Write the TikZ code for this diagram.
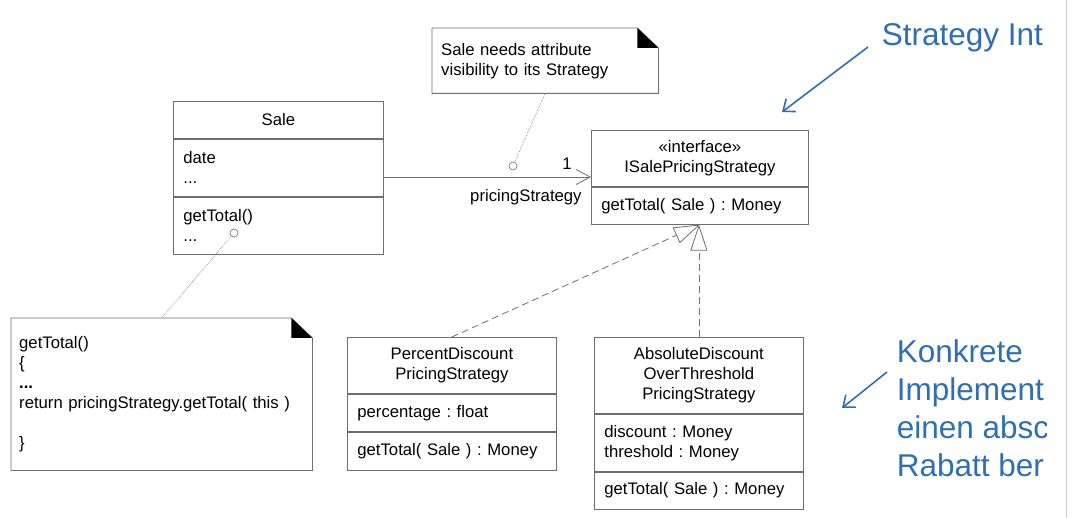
\documentclass[tikz,border=0pt]{standalone}
\usepackage{fontspec}
\setmainfont{Liberation Sans}
\usetikzlibrary{arrows.meta}

\definecolor{umlgray}{RGB}{110,110,110}
\definecolor{slideblue}{RGB}{46,110,182}
\definecolor{rulegray}{RGB}{205,205,205}

\newcommand{\umlfont}{\fontsize{16.7pt}{20pt}\selectfont}
\frenchspacing

\tikzset{
    classhead/.style={draw=umlgray, line width=0.8pt, inner sep=0pt,
        align=center, anchor=north west},
    classpart/.style={draw=umlgray, line width=0.8pt, inner xsep=10pt,
        inner ysep=0pt, align=left, anchor=north west},
    notebox/.style={inner xsep=9pt, inner ysep=0pt, align=left,
        anchor=north west},
    notedot/.style={circle, draw=umlgray, fill=white, line width=0.6pt,
        inner sep=0pt, minimum size=8pt},
    noteline/.style={draw=umlgray, densely dotted, line width=0.6pt},
    realize/.style={draw=umlgray, line width=0.8pt,
        dash pattern=on 7pt off 4pt,
        -{Triangle[fill=white, length=26pt, width=17pt]}},
    hinttext/.style={text=slideblue, inner sep=0pt,
        font=\fontsize{31.5pt}{38.3pt}\selectfont},
    hint/.style={draw=slideblue, line width=1.6pt,
        -{Straight Barb[length=10pt, width=16pt]}},
}

\begin{document}
\begin{tikzpicture}[x=1pt, y=-1pt, font=\umlfont]
    \useasboundingbox (0,0) rectangle (1079,518);
    \begin{scope} % Sale and the strategy interface
        \node[classhead, minimum width=210pt, minimum height=37pt]
            (saleName) at (173,101) {Sale};
        \node[classpart, text width=190pt, minimum height=57pt]
            (saleAttr) at (saleName.south west) {date\\...};
        \node[classpart, text width=190pt, minimum height=57pt]
            (saleOps) at (saleAttr.south west) {getTotal()\\...};
        \node[classhead, minimum width=217pt, minimum height=56pt]
            (isaleHead) at (591,130) {«interface»\\ISalePricingStrategy};
        \node[classpart, text width=197pt, minimum height=37pt]
            (isaleOps) at (isaleHead.south west) {getTotal( Sale ) : Money};
    \end{scope}
    \begin{scope} % Concrete strategies
        \node[classhead, minimum width=209pt, minimum height=56pt]
            (percentHead) at (347,337) {PercentDiscount\\PricingStrategy};
        \node[classpart, text width=189pt, minimum height=37pt]
            (percentAttr) at (percentHead.south west) {percentage : float};
        \node[classpart, text width=189pt, minimum height=38pt]
            (percentOps) at (percentAttr.south west) {getTotal( Sale ) : Money};
        \node[classhead, minimum width=209pt, minimum height=76pt]
            (absHead) at (594,337) {AbsoluteDiscount\\OverThreshold\\PricingStrategy};
        \node[classpart, text width=189pt, minimum height=57pt]
            (absAttr) at (absHead.south west) {discount : Money\\threshold : Money};
        \node[classpart, text width=189pt, minimum height=37pt]
            (absOps) at (absAttr.south west) {getTotal( Sale ) : Money};
    \end{scope}
    \begin{scope} % Notes
        \node[notebox, text width=208pt, minimum height=65pt]
            (strategyNote) at (432,28) {Sale needs attribute\\visibility to its Strategy};
        \node[notebox, inner xsep=8pt, text width=285pt, minimum height=152pt]
            (totalNote) at (11,318) {getTotal()\\\{\\\textbf{...}\\
            return pricingStrategy.getTotal( this )\\[20pt]\}};
        \foreach \n in {strategyNote, totalNote} {
            \draw[umlgray, line width=0.8pt] (\n.north west) --
                ([xshift=-21pt]\n.north east) -- ([yshift=-20pt]\n.north east) --
                (\n.south east) -- (\n.south west) -- cycle;
            \fill ([xshift=-21pt]\n.north east) --
                ([xshift=-21pt, yshift=-20pt]\n.north east) --
                ([yshift=-20pt]\n.north east) -- cycle;
        }
        \node[notedot] (assocDot) at (513,166) {};
        \node[notedot] (totalDot) at (234,233) {};
        \draw[noteline] (assocDot) -- (strategyNote.south);
        \draw[noteline] (totalDot) -- (totalNote.north);
    \end{scope}
    \begin{scope} % Association and realizations
        \coordinate (assocLevel) at (0,177);
        \draw[draw=umlgray, line width=0.8pt,
            -{Straight Barb[length=14pt, width=15pt]}]
            (saleAttr.east |- assocLevel) -- (isaleHead.west |- assocLevel)
            node[pos=1, inner sep=0pt, anchor=base east, xshift=-19pt,
                yshift=7pt] (multLabel) {1}
            node[pos=1, inner sep=0pt, anchor=base east, xshift=-9pt,
                yshift=-25pt] (roleLabel) {pricingStrategy};
        \draw[realize] (percentHead.north) -- (isaleOps.south);
        \draw[realize] (absHead.north) -- (absHead.north |- isaleOps.south);
    \end{scope}
    \begin{scope} % Slide remarks, cut at the edge
        \clip (0,0) rectangle (1046,518);
        \node[hinttext, anchor=base west] (stratLabel) at (881.7,45.7) {Strategy Int};
        \node[hinttext, anchor=north west, align=left]
            (implLabel) at (896.7,339) {Konkrete\\Implement\\einen absc\\Rabatt ber};
    \end{scope}
    \coordinate (stratFrom) at (868,47);
    \coordinate (stratTo) at (782,112);
    \draw[hint] (stratFrom) -- (stratTo);
    \coordinate (implFrom) at (887,372);
    \coordinate (implTo) at (842,408);
    \draw[hint] (implFrom) -- (implTo);
    \draw[rulegray, line width=1pt] (1066,0) -- (1066,518);
\end{tikzpicture}
\end{document}
